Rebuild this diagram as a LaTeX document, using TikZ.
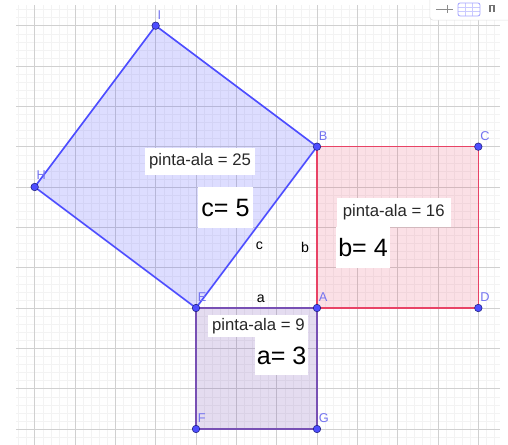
\documentclass[tikz,border=0pt]{standalone}
\usepackage{fontspec}
\setmainfont{Liberation Sans}
\definecolor{sqblue}{RGB}{77,77,255}
\definecolor{sqred}{RGB}{232,67,102}
\definecolor{sqpurple}{RGB}{120,80,180}
\definecolor{ptlabel}{RGB}{115,115,240}
\definecolor{ptedge}{RGB}{30,30,130}
\definecolor{gridmajor}{RGB}{208,208,208}
\definecolor{gridminor}{RGB}{243,243,243}
\definecolor{inktext}{RGB}{40,40,40}

\begin{document}
\begin{tikzpicture}[
  areabox/.style={fill=white, inner sep=0pt, text=inktext, font=\fontsize{11.8}{14}\selectfont},
  sidebox/.style={fill=white, inner sep=0pt, text=black, font=\fontsize{17.7}{21}\selectfont},
  sidename/.style={inner sep=0pt, text=black, font=\fontsize{10}{12}\selectfont},
  pt/.style={circle, fill=sqblue, draw=ptedge, line width=0.4pt, inner sep=0pt, minimum size=5.3pt},
  ptname/.style={anchor=base west, inner sep=0pt, text=ptlabel, font=\fontsize{9}{11}\selectfont, xshift=1.2pt, yshift=4.6pt}
]
\useasboundingbox (-4.860,-3.397) rectangle (7.736,7.637);
\fill[white] (-4.860,-3.397) rectangle (7.736,7.637);

% grid
\draw[gridminor, line width=0.3pt, step=0.2] (-4.463,-3.397) grid (7.538,7.513);
\draw[gridmajor, line width=0.6pt, step=1] (-4.463,-3.397) grid (7.538,7.513);

% corners
\coordinate (E) at (0,0);
\coordinate (A) at (3,0);
\coordinate (B) at (3,4);
\coordinate (C) at (7,4);
\coordinate (D) at (7,0);
\coordinate (F) at (0,-3);
\coordinate (G) at (3,-3);
\coordinate (H) at (-4,3);
\coordinate (I) at (-1,7);

% squares
\filldraw[draw=sqblue, fill=sqblue, fill opacity=0.19, line width=1.15pt] (E) -- (B) -- (I) -- (H) -- cycle;
\filldraw[draw=sqred, fill=sqred, fill opacity=0.16, line width=1.15pt] (A) -- (D) -- (C) -- (B) -- cycle;
\filldraw[draw=sqpurple, fill=sqpurple, fill opacity=0.2, line width=1.15pt] (E) -- (A) -- (G) -- (F) -- cycle;

% texts
\node[areabox, minimum width=2.727cm, minimum height=0.669cm] (area25) at (0.099,3.633) {pinta-ala = 25};
\node[sidebox, minimum width=1.364cm, minimum height=1.017cm] (sidec) at (0.731,2.492) {c= 5};
\node[areabox, minimum width=2.827cm, minimum height=0.712cm] (area16) at (4.902,2.372) {pinta-ala = 16};
\node[sidebox, minimum width=1.339cm, minimum height=1.032cm] (sideb) at (4.141,1.500) {b= 4};
\node[areabox, minimum width=2.480cm, minimum height=0.538cm] (area9) at (1.545,-0.443) {pinta-ala = 9};
\node[sidebox, minimum width=1.322cm, minimum height=0.950cm] (sidea) at (2.124,-1.186) {a= 3};

\node[sidename] (namec) at (1.570,1.537) {c};
\node[sidename] (nameb) at (2.703,1.505) {b};
\node[sidename] (namea) at (1.604,0.240) {a};

% points
\node[pt] (pI) at (I) {};
\node[pt] (pH) at (H) {};
\node[pt] (pB) at (B) {};
\node[pt] (pC) at (C) {};
\node[pt] (pE) at (E) {};
\node[pt] (pA) at (A) {};
\node[pt] (pD) at (D) {};
\node[pt] (pF) at (F) {};
\node[pt] (pG) at (G) {};

\node[ptname] (lI) at (I) {I};
\node[ptname, yshift=1pt] (lH) at (H) {H};
\node[ptname] (lB) at (B) {B};
\node[ptname] (lC) at (C) {C};
\node[ptname] (lE) at (E) {E};
\node[ptname] (lA) at (A) {A};
\node[ptname] (lD) at (D) {D};
\node[ptname] (lF) at (F) {F};
\node[ptname] (lG) at (G) {G};

% toolbar
\draw[draw=black!12, fill=white, rounded corners=2pt] (5.80,7.14) rectangle (7.95,7.85);
\draw[black!45, line width=0.6pt] (5.951,7.414) -- (6.373,7.414);
\draw[black!45, line width=0.6pt] (6.224,7.513) -- (6.224,7.315);
\draw[sqblue!30, line width=0.3pt] (6.496,7.348) -- (7.042,7.348) (6.496,7.455) -- (7.042,7.455)
  (6.678,7.240) -- (6.678,7.563) (6.860,7.240) -- (6.860,7.563);
\draw[draw=sqblue!50, rounded corners=1.5pt, line width=0.6pt] (6.496,7.240) rectangle (7.042,7.563);
\draw[black!55, line width=0.9pt] (7.265,7.50) -- (7.414,7.50) (7.29,7.50) -- (7.29,7.34) (7.39,7.50) -- (7.39,7.34);
\end{tikzpicture}
\end{document}
